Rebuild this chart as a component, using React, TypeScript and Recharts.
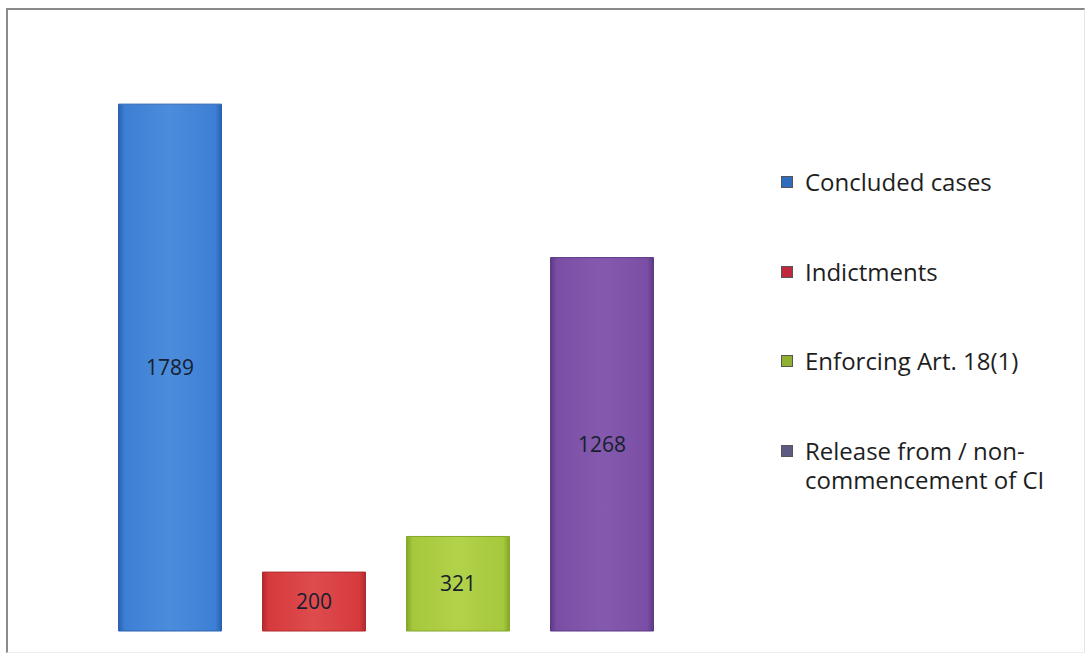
import { BarChart, Bar, XAxis, YAxis, LabelList } from "recharts";

const seriesNames = [
  "Concluded cases",
  "Indictments",
  "Enforcing Art. 18(1)",
  "Release from / non-commencement of CI",
];
const seriesValues = [1789, 200, 321, 1268];
const seriesKeys = ["concluded", "indictments", "enforcing", "release"];

// base / edge shades for the bevelled bars
const palette = [
  { base: "#3d7fd4", light: "#4c8cdc", dark: "#2a62b0", marker: "#2f6cc0" },
  { base: "#d63a3d", light: "#de4c4e", dark: "#b02a2e", marker: "#c0283e" },
  { base: "#a6c83c", light: "#b2d24a", dark: "#84a62a", marker: "#8fb030" },
  { base: "#7a4ea4", light: "#845aae", dark: "#5c3a84", marker: "#5e5a86" },
];

const row: Record<string, number | string> = { cat: "" };
seriesKeys.forEach((k, i) => {
  row[k] = seriesValues[i];
});
const data = [row];

const font = "'Open Sans', 'Noto Sans', sans-serif";

export default function App() {
  return (
    <div
      style={{
        position: "absolute",
        left: 0,
        top: 0,
        width: 1091,
        height: 657,
        background: "#fff",
        overflow: "hidden",
        fontFamily: font,
      }}
    >
      <div
        style={{
          position: "absolute",
          left: 6,
          top: 8,
          width: 1079,
          height: 645,
          borderTop: "2px solid #8a8a8a",
          borderLeft: "2px solid #8a8a8a",
          borderRight: "1px solid #e4e4e4",
          borderBottom: "1px solid #eeeeee",
          boxSizing: "border-box",
        }}
      />
      <BarChart
        width={1091}
        height={657}
        data={data}
        margin={{ top: 42, right: 417.5, bottom: 26, left: 97.5 }}
        barSize={103}
        barGap={41}
        style={{ position: "absolute", left: 0, top: 0 }}
      >
        <defs>
          {palette.map((p, i) => (
            <linearGradient key={i} id={"bev" + i} x1="0" y1="0" x2="1" y2="0">
              <stop offset="0%" stopColor={p.dark} />
              <stop offset="6%" stopColor={p.base} />
              <stop offset="50%" stopColor={p.light} />
              <stop offset="94%" stopColor={p.base} />
              <stop offset="100%" stopColor={p.dark} />
            </linearGradient>
          ))}
        </defs>
        <XAxis dataKey="cat" hide />
        <YAxis hide domain={[0, 2000]} />
        {seriesKeys.map((k, i) => (
          <Bar
            key={k}
            dataKey={k}
            name={seriesNames[i]}
            fill={`url(#bev${i})`}
            stroke={palette[i].dark}
            strokeWidth={1}
            isAnimationActive={false}
          >
            <LabelList
              dataKey={k}
              position="center"
              fill="#16202e"
              style={{ fontSize: 21, fontFamily: font }}
            />
          </Bar>
        ))}
      </BarChart>
      <div
        style={{
          position: "absolute",
          left: 781,
          top: 167,
          width: 292,
        }}
      >
        {seriesNames.map((name, i) => (
          <div
            key={name}
            style={{
              display: "flex",
              alignItems: "flex-start",
              marginBottom: 60.5,
              fontSize: 24,
              lineHeight: "29px",
              color: "#1e1e1e",
            }}
          >
            <span
              style={{
                display: "inline-block",
                width: 10,
                height: 10,
                marginTop: 9,
                marginRight: 12,
                flexShrink: 0,
                background: palette[i].marker,
                border: "1px solid #555",
              }}
            />
            <span>{name}</span>
          </div>
        ))}
      </div>
    </div>
  );
}
